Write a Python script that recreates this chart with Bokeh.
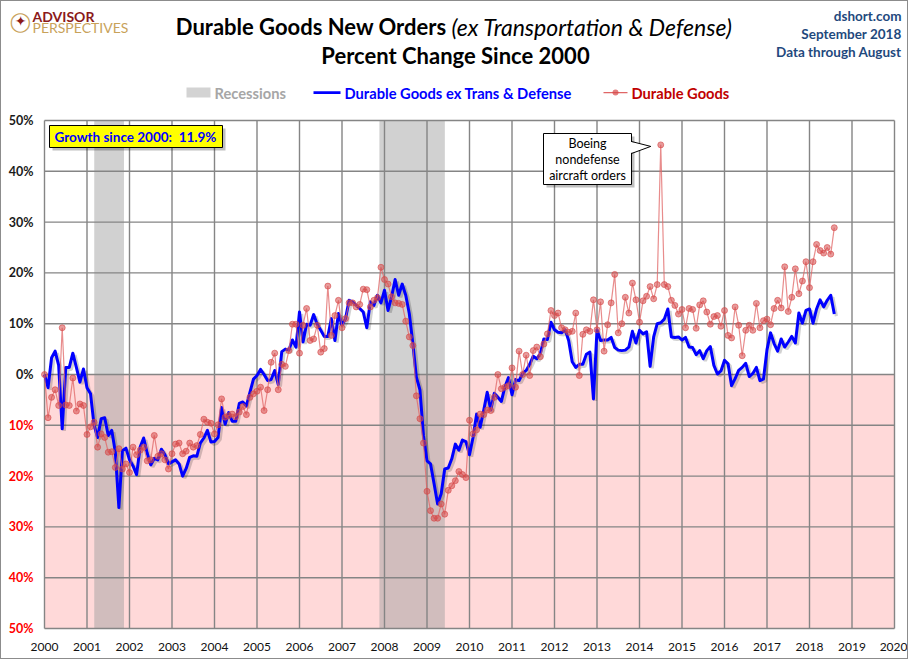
import numpy as np
from bokeh.plotting import figure
from bokeh.models import Range1d, FixedTicker, Label, CustomJSTickFormatter, BoxAnnotation
from bokeh.core.properties import value
from bokeh.embed import file_html
from bokeh.resources import INLINE

# ---------------- data (percent change since Jan 2000, monthly) ----------------
start_year = 2000
ex_trans = [
    0.0, -2.6, 3.3, 4.6, 1.8, -10.7, 1.4, 1.4, 4.2, 1.4, -1.5, 1.1,
    -2.6, -3.8, -10.0, -12.4, -8.7, -8.5, -12.0, -11.0, -15.3, -26.2, -15.0, -14.5,
    -16.8, -18.0, -19.7, -14.3, -12.5, -15.5, -17.8, -16.5, -16.8, -14.7, -15.8, -17.6,
    -17.2, -16.8, -17.6, -20.0, -18.5, -16.3, -16.0, -16.1, -13.5, -12.5, -11.0, -13.3,
    -13.2, -12.4, -6.5, -9.8, -7.5, -9.2, -9.2, -5.7, -5.4, -6.2, -3.5, -0.9,
    -0.2, 1.0, 0.0, -1.2, -1.0, 0.8, -2.0, 4.5, 5.0, 4.8, 6.8, 5.4,
    12.3, 6.4, 9.9, 9.7, 11.8, 9.9, 8.7, 7.5, 7.5, 11.0, 6.7, 12.0,
    9.7, 11.0, 14.6, 14.3, 13.6, 13.0, 12.3, 9.2, 14.3, 13.6, 15.6, 14.1,
    16.6, 12.6, 15.3, 18.7, 15.6, 17.8, 15.6, 12.0, 6.1, -0.5, -3.0, -12.0,
    -17.0, -17.6, -21.5, -25.5, -23.5, -18.6, -18.4, -16.6, -13.7, -14.9, -12.9, -13.2,
    -15.8, -12.4, -7.8, -10.4, -7.1, -3.5, -7.0, -3.7, -4.5, -5.3, -2.4, -0.6,
    -4.0, -1.0, -1.2, 0.2, 0.8, 2.0, 3.6, 3.1, 4.1, 7.0, 6.9, 10.3,
    8.8, 8.3, 8.2, 8.8, 6.7, 2.5, 1.4, 2.0, 2.0, 4.0, 4.4, -4.8,
    8.8, 6.7, 6.8, 6.8, 7.3, 5.3, 4.8, 4.7, 4.8, 5.4, 8.5, 6.2,
    8.7, 8.0, 8.4, 1.6, 7.4, 10.0, 10.2, 10.9, 12.9, 7.4, 7.3, 7.4,
    6.8, 7.3, 5.4, 5.3, 3.9, 4.7, 3.1, 4.7, 5.5, 1.8, 0.1, 0.7,
    2.8, 2.1, -2.2, -0.8, 0.8, 1.4, 2.2, -0.4, 0.2, 1.4, -1.2, -0.9,
    4.9, 8.2, 6.1, 4.6, 7.0, 5.4, 6.4, 7.5, 6.2, 12.1, 10.1, 12.6,
    12.9, 10.1, 12.9, 14.7, 13.3, 14.6, 15.6, 11.9,
]
durable = [
    0.0, -8.5, -4.5, -3.0, -6.1, 9.2, -6.0, -6.1, -0.7, -7.2, -5.8, -6.1,
    -11.8, -10.3, -9.4, -14.3, -11.7, -12.4, -15.3, -15.2, -18.3, -14.6, -18.6, -17.6,
    -19.3, -14.3, -15.8, -14.9, -14.3, -17.0, -16.8, -12.0, -16.1, -15.6, -16.8, -18.6,
    -15.6, -13.7, -13.5, -15.6, -15.1, -13.5, -14.3, -14.0, -11.8, -8.8, -9.4, -9.6,
    -11.7, -9.9, -4.8, -8.4, -8.1, -7.8, -8.3, -7.4, -6.3, -7.9, -4.5, -3.8,
    -3.3, -2.5, -7.1, -3.0, 2.4, 4.2, -3.0, 2.0, 1.6, 4.7, 9.9, 9.9,
    4.2, 9.7, 13.0, 6.7, 7.0, 9.7, 4.4, 5.1, 17.4, 7.7, 11.6, 14.6,
    9.2, 11.0, 14.1, 14.1, 13.3, 13.8, 16.8, 16.7, 13.3, 14.6, 15.1, 21.1,
    18.7, 17.8, 15.3, 14.1, 14.0, 13.8, 10.5, 7.4, 5.7, -4.2, -8.7, -13.5,
    -23.0, -26.8, -28.3, -28.3, -25.5, -27.5, -22.8, -21.9, -20.9, -19.1, -19.7, -20.3,
    -9.0, -11.7, -10.9, -7.8, -7.9, -7.0, -7.1, -4.5, 0.0, -2.8, -2.5, -2.2,
    1.3, -2.5, 4.6, 0.0, 3.8, -0.2, 4.7, 5.4, 3.5, 6.0, 8.0, 12.6,
    11.6, 12.1, 9.2, 8.8, 8.3, 8.5, 12.1, -0.2, 7.9, 8.8, 8.5, 14.7,
    8.8, 14.3, 4.6, 9.8, 14.1, 19.7, 8.2, 10.0, 15.2, 12.1, 18.0, 14.7,
    10.3, 14.5, 15.4, 17.3, 14.9, 17.7, 45.2, 17.7, 17.3, 14.6, 13.6, 11.9,
    12.8, 9.2, 13.0, 12.8, 9.1, 13.7, 14.5, 12.3, 9.9, 11.4, 11.6, 9.5,
    12.6, 7.7, 7.2, 13.3, 9.7, 3.7, 8.7, 9.7, 8.7, 14.0, 9.2, 10.6,
    10.9, 9.8, 13.0, 14.6, 13.1, 21.2, 12.4, 15.2, 20.8, 15.9, 18.4, 22.2,
    17.1, 22.2, 25.6, 24.4, 23.9, 25.0, 23.7, 28.9,
]
recession_start = [2001.17, 2007.88]
recession_end = [2001.87, 2009.42]
x_ticks = list(range(2000, 2021))
y_ticks = [50, 40, 30, 20, 10, 0, -10, -20, -30, -40, -50]
y_tick_labels = ["50%", "40%", "30%", "20%", "10%", "0%", "10%", "20%", "30%", "40%", "50%"]

months = [start_year + i / 12 for i in range(len(ex_trans))]

FONT = "Lato"
X0, X1, Y0, Y1 = 2000, 2020, -50, 50          # plot area extent
PX_PER_YEAR, PX_PER_PCT = 42.5, 5.08

# helpers converting reference-pixel positions (annotations only) to data coords
def X(px):
    return 2000 + (px - 44) / PX_PER_YEAR

def Y(py):
    return (374 - py) / PX_PER_PCT

W, H, AXIS_H = 908, 659, 24
p = figure(width=W, height=H,
           x_range=Range1d(X(1), X(W + 1)), y_range=Range1d(Y(H + 1 - AXIS_H), Y(1)),
           output_backend="svg", toolbar_location=None,
           min_border_left=0, min_border_right=0, min_border_top=0, min_border_bottom=AXIS_H,
           styles={"border": "1px solid #8c8c8c"})
p.title.visible = False
p.outline_line_color = None
p.background_fill_color = "white"
p.border_fill_color = "white"
p.xgrid.visible = False
p.ygrid.visible = False

p.yaxis.visible = False
p.xaxis.ticker = FixedTicker(ticks=x_ticks)
p.xaxis.formatter = CustomJSTickFormatter(code="return tick.toFixed(0)")
p.xaxis.axis_line_color = None
p.xaxis.major_tick_line_color = None
p.xaxis.minor_tick_line_color = None
p.xaxis.major_label_standoff = 0
p.xaxis.major_label_text_font = FONT
p.xaxis.major_label_text_font_size = "12px"
p.xaxis.major_label_text_color = "#111111"

# negative zone and recessions
p.quad(left=[X0], right=[X1], top=[0], bottom=[Y0], fill_color="#ffd9d9", line_color=None)
p.quad(left=recession_start, right=recession_end, top=Y1, bottom=Y0,
       fill_color="#9e9e9e", fill_alpha=0.48, line_color=None)

# grid lines over the plot area
p.segment(x0=x_ticks, x1=x_ticks, y0=[Y0] * len(x_ticks), y1=[Y1] * len(x_ticks),
          line_color="#858585", line_width=1.4)
p.segment(x0=[X0] * len(y_ticks), x1=[X1] * len(y_ticks), y0=y_ticks, y1=y_ticks,
          line_color="#858585", line_width=1.4)

# series
mx = np.array(months)
p.line(mx + 0.05, np.array(ex_trans) - 0.4, line_color="black", line_alpha=0.18, line_width=3.2)
p.line(months, ex_trans, line_color="#0000ff", line_width=3, line_join="round")
p.line(months, durable, line_color="#e06666", line_width=1.2, line_alpha=0.75)
p.scatter(months, durable, size=6, fill_color="#d64848", fill_alpha=0.55,
          line_color="#d64848", line_alpha=0.6)

# y tick labels (positive dark, negative red, no minus sign)
ycols = ["#1a1a1a" if v >= 0 else "#ff0000" for v in y_ticks]
p.text(x=[X0] * len(y_ticks), y=y_ticks, text=y_tick_labels, text_color=ycols,
       x_offset=-11, text_align="right", text_baseline="middle",
       text_font=value(FONT), text_font_style="bold", text_font_size="12.5px")

# growth box
growth_text = f"Growth since 2000:\u00a0 {ex_trans[-1]:.1f}%"
bl, br, bt, bb = X(49), X(222), Y(125), Y(147)
dx, dy = 3 / PX_PER_YEAR, 3 / PX_PER_PCT
p.quad(left=[bl + dx], right=[br + dx], top=[bt - dy], bottom=[bb - dy],
       fill_color="black", fill_alpha=0.25, line_color=None)
p.quad(left=[bl], right=[br], top=[bt], bottom=[bb], fill_color="#ffff00",
       line_color="black", line_width=1)
p.text(x=[X(54)], y=[Y(136)], text=[growth_text], text_font=value(FONT),
       text_font_style="bold", text_font_size="13.5px", text_color="#0000ff",
       text_align="left", text_baseline="middle")

# Boeing callout
i_spike = int(np.argmax(durable))
sx, sy = months[i_spike], durable[i_spike]
cl, cr, ct, cb = X(543), X(631), Y(133), Y(184)
p.quad(left=[cl + dx], right=[cr + dx], top=[ct - dy], bottom=[cb - dy],
       fill_color="black", fill_alpha=0.25, line_color=None)
p.quad(left=[cl], right=[cr], top=[ct], bottom=[cb], fill_color="white",
       line_color="black", line_width=1)
tipx, tipy = sx - 10 / PX_PER_YEAR, sy - 0.3
p.patch([cr - 0.05, tipx, cr - 0.05], [Y(141), tipy, Y(153)], fill_color="white", line_color=None)
p.line([cr, tipx, cr], [Y(141), tipy, Y(153)], line_color="black", line_width=1)
cx = (cl + cr) / 2
p.text(x=[cx, cx, cx], y=[Y(143), Y(159), Y(175)],
       text=["Boeing", "nondefense", "aircraft orders"], text_font=value(FONT),
       text_font_size="12.5px", text_color="black", text_align="center", text_baseline="middle")

# ---------------- header texts ----------------
def lab(px, py, text, align="left", size="13px", style="bold", color="black", font=FONT):
    p.add_layout(Label(x=X(px), y=Y(py), text=text, text_align=align, text_baseline="middle",
                       text_font=font, text_font_size=size, text_font_style=style,
                       text_color=color))

lab(446, 26, "Durable Goods New Orders", align="right", size="22px", style="bold")
lab(451, 26, "(ex Transportation & Defense)", align="left", size="23px", style="italic")
lab(455, 55, "Percent Change Since 2000", align="center", size="22px", style="bold")

lab(901, 15, "dshort.com", align="right", size="13.5px", color="#1f497d")
lab(901, 33, "September 2018", align="right", size="13.5px", color="#1f497d")
lab(901, 51, "Data through August", align="right", size="13.5px", color="#1f497d")

lab(20, 20, "◯", align="center", size="19px", style="normal", color="#c8a25a", font="DejaVu Sans")
lab(20, 20, "✦", align="center", size="14px", style="normal", color="#8b1a1a", font="DejaVu Sans")
lab(32, 16, "ADVISOR", size="14px", style="bold", color="#8b1a1a")
lab(32, 27, "PERSPECTIVES", size="14px", style="normal", color="#c8a25a")

# legend
LEG = "14.7px"
p.add_layout(BoxAnnotation(left=X(186), right=X(210), top=Y(87), bottom=Y(97),
                           fill_color="#d3d3d3", fill_alpha=1, line_color=None))
lab(214, 92, "Recessions", size=LEG, color="#a6a6a6")
p.add_layout(BoxAnnotation(left=X(313), right=X(340), top=Y(90.8), bottom=Y(93.4),
                           fill_color="#0000ff", fill_alpha=1, line_color=None))
lab(344, 92, "Durable Goods ex Trans & Defense", size=LEG, color="#0000ff")
p.add_layout(BoxAnnotation(left=X(603), right=X(627), top=Y(91.5), bottom=Y(92.7),
                           fill_color="#e06666", fill_alpha=1, line_color=None))
p.add_layout(BoxAnnotation(left=X(612), right=X(618), top=Y(89), bottom=Y(95),
                           fill_color="#d64848", fill_alpha=0.7, line_color=None,
                           border_radius=3))
lab(631, 92, "Durable Goods", size=LEG, color="#c00000")

open("out.html", "w").write(file_html(p, INLINE))
